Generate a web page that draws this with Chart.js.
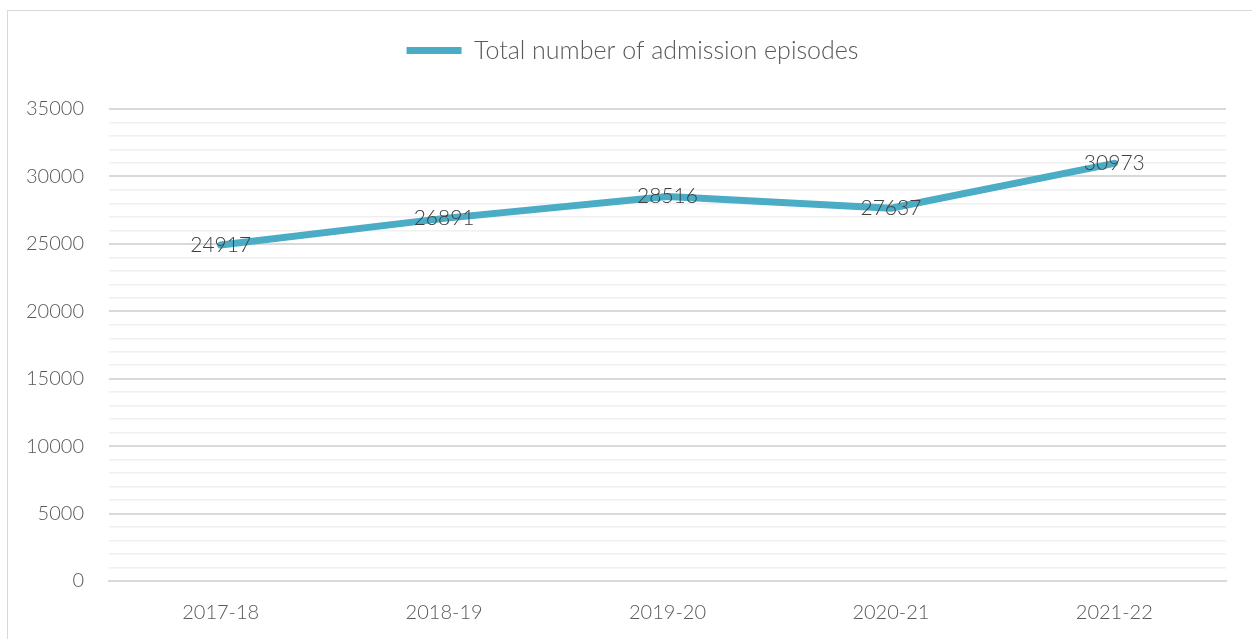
<!DOCTYPE html>
<html>
<head>
<meta charset="utf-8">
<script src="https://cdn.jsdelivr.net/npm/chart.js@4"></script>
<style>
    html, body { margin: 0; padding: 0; background: #ffffff; overflow: hidden; }
    .frame {
        position: absolute;
        left: 7px;
        top: 10px;
        width: 1260px;
        height: 640px;
        border-top: 1.5px solid #d9d9d9;
        border-left: 1.5px solid #d9d9d9;
    }
    .wrap { position: absolute; left: 0; top: 0; width: 1252px; height: 639px; }
</style>
</head>
<body>
<div class="frame"></div>
<div class="wrap"><canvas id="myChart" width="1252" height="639"></canvas></div>
<script>
const years = ['2017-18', '2018-19', '2019-20', '2020-21', '2021-22'];
const admissions = [24917, 26891, 28516, 27637, 30973];
const seriesName = 'Total number of admission episodes';

const fontFamily = "Lato, 'Open Sans', sans-serif";

// value labels sit right on top of the points
const pointLabels = {
    id: 'pointLabels',
    afterDatasetsDraw(chart) {
        const ctx = chart.ctx;
        const meta = chart.getDatasetMeta(0);
        ctx.save();
        ctx.font = '300 21px ' + fontFamily;
        ctx.fillStyle = '#404040';
        ctx.textAlign = 'center';
        ctx.textBaseline = 'middle';
        meta.data.forEach(function (pt, i) {
            ctx.fillText(admissions[i], pt.x, pt.y);
        });
        ctx.restore();
    }
};

// extra room under the legend, and nudge it a bit to the right
const legendSpace = {
    id: 'legendSpace',
    beforeInit(chart) {
        const fit = chart.legend.fit;
        chart.legend.fit = function () {
            fit.bind(chart.legend)();
            this.height += 36;
        };
    },
    afterLayout(chart) {
        chart.legend.left += 19;
        chart.legend.right += 19;
    }
};

let ctx = document.getElementById('myChart').getContext('2d');
const myChart = new Chart(ctx, {
    type: 'line',
    data: {
        labels: years,
        datasets: [{
            label: seriesName,
            data: admissions,
            borderColor: '#4bacc6',
            backgroundColor: '#4bacc6',
            borderWidth: 7,
            borderCapStyle: 'round',
            borderJoinStyle: 'round',
            pointRadius: 0,
            tension: 0
        }]
    },
    options: {
        responsive: false,
        animation: false,
        layout: {
            padding: { left: 1, right: 26, top: 8, bottom: 2 }
        },
        plugins: {
            legend: {
                labels: {
                    usePointStyle: true,
                    pointStyle: 'line',
                    pointStyleWidth: 55,
                    boxHeight: 7,
                    color: '#595959',
                    font: { family: fontFamily, size: 25, weight: '300' },
                    padding: 30
                }
            },
            tooltip: { enabled: false }
        },
        scales: {
            x: {
                offset: true,
                grid: { display: false },
                border: { color: '#d9d9d9', width: 2 },
                ticks: {
                    color: '#595959',
                    font: { family: fontFamily, size: 20, weight: '300' },
                    padding: 12
                }
            },
            y: {
                min: 0,
                max: 35000,
                border: { display: false },
                grid: {
                    drawTicks: false,
                    color: function (c) {
                        return c.tick.value % 5000 === 0 ? '#d9d9d9' : '#f0f0f0';
                    },
                    lineWidth: function (c) {
                        return c.tick.value % 5000 === 0 ? 2 : 1.5;
                    }
                },
                ticks: {
                    stepSize: 1000,
                    autoSkip: false,
                    padding: 25,
                    color: '#595959',
                    font: { family: fontFamily, size: 20, weight: '300' },
                    callback: function (v) {
                        return v % 5000 === 0 ? v : '';
                    }
                }
            }
        }
    },
    plugins: [pointLabels, legendSpace]
});
</script>
</body>
</html>
